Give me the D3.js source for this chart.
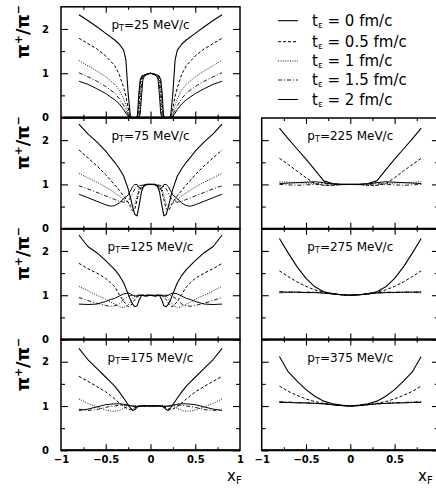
<!DOCTYPE html>
<html><head><meta charset="utf-8">
<script src="https://cdn.jsdelivr.net/npm/d3@7"></script>
<style>
body{margin:0;background:#fff}
svg{display:block}
text{font-family:"DejaVu Sans",sans-serif;fill:#000}
</style>
</head><body><svg id="c" width="436" height="488"></svg>
<script>
// ---------------- data ----------------
const momenta = ["25","75","125","175","225","275","375"];
const legendTimes = ["0","0.5","1","1.5","2"];
const xTickValues = [-1,-0.5,0,0.5,1];
const xTickLabels = ["\u22121","\u22120.5","0","0.5","1"];
const xTickValuesRight = [-1,-0.5,0,0.5];
const xTickLabelsRight = ["\u22121","\u22120.5","0","0.5"];
const xMinorValues = [-0.75,-0.25,0.25,0.75];
const yTickValues = [0,1,2];
const yTickLabels = ["0","1","2"];
const yMinorValues = [0.5,1.5];

const xGrid25 = [-0.8,-0.7,-0.6,-0.5,-0.4,-0.35,-0.3,-0.275,-0.25,-0.225,-0.2,-0.16,-0.145,-0.13,-0.115,-0.1,-0.085,-0.07,-0.04,0,
  0.04,0.07,0.085,0.1,0.115,0.13,0.145,0.16,0.2,0.225,0.25,0.275,0.3,0.35,0.4,0.5,0.6,0.7,0.8];
const xGridMid = [-0.8,-0.7,-0.6,-0.5,-0.45,-0.4,-0.35,-0.3,-0.25,-0.225,-0.2,-0.175,-0.15,-0.125,-0.1,-0.075,-0.05,0,
  0.05,0.075,0.1,0.125,0.15,0.175,0.2,0.225,0.25,0.3,0.35,0.4,0.45,0.5,0.6,0.7,0.8];
const xGridR = [-0.8,-0.7,-0.6,-0.5,-0.4,-0.3,-0.2,-0.1,0,0.1,0.2,0.3,0.4,0.5,0.6,0.7,0.8];

// pT = 25 MeV/c
const pt25_t0  = [2.32,2.19,2.05,1.90,1.75,1.66,1.52,1.30,0.55,0.02,0,0,0.05,0.55,0.85,0.92,0.95,0.96,0.98,1.00,0.98,0.96,0.95,0.92,0.85,0.55,0.05,0,0,0.02,0.55,1.30,1.52,1.66,1.75,1.90,2.05,2.19,2.32];
const pt25_t05 = [1.79,1.67,1.55,1.39,1.17,0.98,0.68,0.48,0.22,0.02,0,0,0,0.30,0.75,0.90,0.94,0.96,0.98,1.00,0.98,0.96,0.94,0.90,0.75,0.30,0,0,0,0.02,0.22,0.48,0.68,0.98,1.17,1.39,1.55,1.67,1.79];
const pt25_t1  = [1.29,1.17,1.05,0.92,0.75,0.62,0.42,0.28,0.12,0.01,0,0,0,0.10,0.55,0.85,0.92,0.95,0.98,1.00,0.98,0.95,0.92,0.85,0.55,0.10,0,0,0,0.01,0.12,0.28,0.42,0.62,0.75,0.92,1.05,1.17,1.29];
const pt25_t15 = [1.01,0.92,0.82,0.70,0.55,0.43,0.27,0.17,0.07,0,0,0,0,0.02,0.30,0.75,0.90,0.94,0.97,1.00,0.97,0.94,0.90,0.75,0.30,0.02,0,0,0,0,0.07,0.17,0.27,0.43,0.55,0.70,0.82,0.92,1.01];
const pt25_t2  = [0.82,0.75,0.65,0.54,0.40,0.31,0.18,0.10,0.03,0,0,0,0,0,0.08,0.50,0.85,0.93,0.97,1.00,0.97,0.93,0.85,0.50,0.08,0,0,0,0,0,0.03,0.10,0.18,0.31,0.40,0.54,0.65,0.75,0.82];

// pT = 75 MeV/c
const pt75_t0  = [2.36,2.14,1.96,1.75,1.62,1.50,1.36,1.19,0.90,0.71,0.50,0.32,0.29,0.55,0.84,0.97,1.00,1.00,1.00,0.97,0.84,0.55,0.29,0.32,0.50,0.71,0.90,1.19,1.36,1.50,1.62,1.75,1.96,2.14,2.36];
const pt75_t05 = [1.78,1.60,1.42,1.22,1.10,0.99,0.87,0.74,0.60,0.50,0.40,0.45,0.65,0.85,0.95,0.98,1.00,1.00,1.00,0.98,0.95,0.85,0.65,0.45,0.40,0.50,0.60,0.74,0.87,0.99,1.10,1.22,1.42,1.60,1.78];
const pt75_t1  = [1.25,1.15,1.05,0.94,0.88,0.81,0.74,0.66,0.58,0.54,0.50,0.55,0.75,0.92,0.97,0.99,1.00,1.00,1.00,0.99,0.97,0.92,0.75,0.55,0.50,0.54,0.58,0.66,0.74,0.81,0.88,0.94,1.05,1.15,1.25];
const pt75_t15 = [0.97,0.90,0.82,0.74,0.70,0.66,0.62,0.60,0.62,0.70,0.80,0.90,0.95,0.97,0.98,0.99,1.00,1.00,1.00,0.99,0.98,0.97,0.95,0.90,0.80,0.70,0.62,0.60,0.62,0.66,0.70,0.74,0.82,0.90,0.97];
const pt75_t2  = [0.78,0.70,0.62,0.54,0.51,0.52,0.58,0.68,0.76,0.85,0.95,1.00,1.00,0.92,0.90,0.95,0.99,1.00,0.99,0.95,0.90,0.92,1.00,1.00,0.95,0.85,0.76,0.68,0.58,0.52,0.51,0.54,0.62,0.70,0.78];

// pT = 125 MeV/c
const pt125_t0  = [2.36,2.10,1.96,1.78,1.68,1.58,1.45,1.28,1.03,0.90,0.80,0.74,0.76,0.90,1.00,0.99,0.98,1.00,0.98,0.99,1.00,0.90,0.76,0.74,0.80,0.90,1.03,1.28,1.45,1.58,1.68,1.78,1.96,2.10,2.36];
const pt125_t05 = [1.72,1.60,1.50,1.38,1.29,1.19,1.02,0.86,0.74,0.76,0.82,0.90,0.96,0.99,1.00,1.00,1.00,1.00,1.00,1.00,1.00,0.99,0.96,0.90,0.82,0.76,0.74,0.86,1.02,1.19,1.29,1.38,1.50,1.60,1.72];
const pt125_t1  = [1.20,1.10,1.00,0.91,0.85,0.80,0.74,0.72,0.78,0.85,0.92,0.97,0.99,1.00,1.00,1.00,1.00,1.00,1.00,1.00,1.00,1.00,0.99,0.97,0.92,0.85,0.78,0.72,0.74,0.80,0.85,0.91,1.00,1.10,1.20];
const pt125_t15 = [0.95,0.88,0.82,0.77,0.75,0.76,0.80,0.90,0.97,0.99,1.00,1.00,1.00,1.00,1.00,1.00,1.00,1.00,1.00,1.00,1.00,1.00,1.00,1.00,1.00,0.99,0.97,0.90,0.80,0.76,0.75,0.77,0.82,0.88,0.95];
const pt125_t2  = [0.80,0.79,0.80,0.86,0.90,0.93,0.98,1.03,1.05,1.03,1.00,0.98,0.98,1.00,1.00,0.99,0.99,1.00,0.99,0.99,1.00,1.00,0.98,0.98,1.00,1.03,1.05,1.03,0.98,0.93,0.90,0.86,0.80,0.79,0.80];

// pT = 175 MeV/c
const pt175_t0  = [2.30,2.05,1.85,1.65,1.55,1.45,1.32,1.18,1.03,0.96,0.90,0.92,0.97,1.00,1.00,1.01,1.01,1.00,1.01,1.01,1.00,1.00,0.97,0.92,0.90,0.96,1.03,1.18,1.32,1.45,1.55,1.65,1.85,2.05,2.30];
const pt175_t05 = [1.67,1.56,1.44,1.32,1.24,1.16,1.07,0.99,0.93,0.92,0.94,0.96,0.98,0.99,1.00,1.00,1.00,1.00,1.00,1.00,1.00,0.99,0.98,0.96,0.94,0.92,0.93,0.99,1.07,1.16,1.24,1.32,1.44,1.56,1.67];
const pt175_t1  = [1.16,1.06,0.98,0.91,0.89,0.88,0.90,0.95,0.99,1.00,1.00,1.00,1.00,1.00,1.00,1.00,1.00,1.00,1.00,1.00,1.00,1.00,1.00,1.00,1.00,1.00,0.99,0.95,0.90,0.88,0.89,0.91,0.98,1.06,1.16];
const pt175_t15 = [0.93,0.90,0.92,0.97,0.99,1.00,1.02,1.02,1.01,1.00,1.00,1.00,1.00,1.00,1.00,1.00,1.00,1.00,1.00,1.00,1.00,1.00,1.00,1.00,1.00,1.00,1.01,1.02,1.02,1.00,0.99,0.97,0.92,0.90,0.93];
const pt175_t2  = [0.90,0.93,0.98,1.03,1.04,1.05,1.05,1.04,1.02,1.01,1.00,0.99,0.99,1.00,1.00,1.00,1.00,1.00,1.00,1.00,1.00,1.00,0.99,0.99,1.00,1.01,1.02,1.04,1.05,1.05,1.04,1.03,0.98,0.93,0.90];

// pT = 225 MeV/c
const pt225_t0  = [2.27,2.03,1.80,1.57,1.33,1.08,1.02,1.00,1.00,1.00,1.02,1.08,1.33,1.57,1.80,2.03,2.27];
const pt225_t05 = [1.59,1.45,1.30,1.15,1.02,0.98,0.98,1.00,1.00,1.00,0.98,0.98,1.02,1.15,1.30,1.45,1.59];
const pt225_t1  = [1.06,1.05,1.04,1.03,1.02,0.98,0.98,0.99,1.00,0.99,0.98,0.98,1.02,1.03,1.04,1.05,1.06];
const pt225_t15 = [1.00,0.99,0.98,0.99,1.00,1.02,1.00,1.00,1.00,1.00,1.00,1.02,1.00,0.99,0.98,0.99,1.00];
const pt225_t2  = [1.02,1.03,1.04,1.05,1.06,1.04,1.01,1.00,1.00,1.00,1.01,1.04,1.06,1.05,1.04,1.03,1.02];

// pT = 275 MeV/c
const pt275_t0  = [2.28,1.95,1.64,1.38,1.19,1.08,1.03,1.01,1.00,1.01,1.03,1.08,1.19,1.38,1.64,1.95,2.28];
const pt275_t05 = [1.55,1.42,1.30,1.20,1.12,1.07,1.04,1.01,1.00,1.01,1.04,1.07,1.12,1.20,1.30,1.42,1.55];
const pt275_t1  = [1.05,1.06,1.06,1.06,1.06,1.05,1.03,1.01,1.00,1.01,1.03,1.05,1.06,1.06,1.06,1.06,1.05];
const pt275_t15 = [1.08,1.07,1.07,1.07,1.07,1.05,1.03,1.01,1.00,1.01,1.03,1.05,1.07,1.07,1.07,1.07,1.08];
const pt275_t2  = [1.07,1.07,1.07,1.06,1.06,1.05,1.03,1.01,1.00,1.01,1.03,1.05,1.06,1.06,1.07,1.07,1.07];

// pT = 375 MeV/c
const pt375_t0  = [2.12,1.77,1.56,1.37,1.22,1.11,1.05,1.02,1.00,1.02,1.05,1.11,1.22,1.37,1.56,1.77,2.12];
const pt375_t05 = [1.45,1.33,1.24,1.16,1.10,1.06,1.03,1.01,1.00,1.01,1.03,1.06,1.10,1.16,1.24,1.33,1.45];
const pt375_t1  = [1.09,1.08,1.08,1.07,1.06,1.05,1.03,1.01,1.00,1.01,1.03,1.05,1.06,1.07,1.08,1.08,1.09];
const pt375_t15 = [1.10,1.09,1.08,1.07,1.06,1.05,1.03,1.01,1.00,1.01,1.03,1.05,1.06,1.07,1.08,1.09,1.10];
const pt375_t2  = [1.08,1.08,1.07,1.07,1.06,1.05,1.03,1.01,1.00,1.01,1.03,1.05,1.06,1.07,1.07,1.08,1.08];

// ---------------- layout ----------------
const panels = [
  {pt:momenta[0], col:0,row:0, xs:xGrid25,  ys:[pt25_t0,pt25_t05,pt25_t1,pt25_t15,pt25_t2]},
  {pt:momenta[1], col:0,row:1, xs:xGridMid, ys:[pt75_t0,pt75_t05,pt75_t1,pt75_t15,pt75_t2]},
  {pt:momenta[2], col:0,row:2, xs:xGridMid, ys:[pt125_t0,pt125_t05,pt125_t1,pt125_t15,pt125_t2]},
  {pt:momenta[3], col:0,row:3, xs:xGridMid, ys:[pt175_t0,pt175_t05,pt175_t1,pt175_t15,pt175_t2]},
  {pt:momenta[4], col:1,row:1, xs:xGridR,   ys:[pt225_t0,pt225_t05,pt225_t1,pt225_t15,pt225_t2]},
  {pt:momenta[5], col:1,row:2, xs:xGridR,   ys:[pt275_t0,pt275_t05,pt275_t1,pt275_t15,pt275_t2]},
  {pt:momenta[6], col:1,row:3, xs:xGridR,   ys:[pt375_t0,pt375_t05,pt375_t1,pt375_t15,pt375_t2]},
];
const colRange = [[61,240],[261.7,438.9]];
const rowTop = [6.8,118,228.8,339.6];
const rowH = 110.7;
const styles = [
  {dash:null, w:1.1},
  {dash:"3,2", w:1},
  {dash:"1,1.4", w:0.9},
  {dash:"4,2,1,2", w:0.9},
  {dash:null, w:1},
];

const svg = d3.select("#c");
svg.append("rect").attr("width",436).attr("height",488).attr("fill","#fff");

panels.forEach(p=>{
  const x = d3.scaleLinear().domain([-1,1]).range(colRange[p.col]);
  const y = d3.scaleLinear().domain([0,2.5]).range([rowTop[p.row]+rowH,rowTop[p.row]]);
  const g = svg.append("g");
  const y0 = y(0), yT = y(2.5), xL = x(-1), xR = x(1);

  // curves
  p.ys.forEach((vals,i)=>{
    const pts = p.xs.map((xv,j)=>[xv,vals[j]]);
    g.append("path").datum(pts)
      .attr("d", d3.line().x(d=>x(d[0])).y(d=>y(d[1])))
      .attr("fill","none").attr("stroke","#000")
      .attr("stroke-width",styles[i].w)
      .attr("stroke-dasharray",styles[i].dash)
      .attr("stroke-linejoin","round");
  });

  // ticks via d3 axes (inward)
  const mk = (axisFn, scale, vals, size, tr)=>{
    const a = g.append("g").attr("transform",tr)
      .call(axisFn(scale).tickValues(vals).tickSize(size).tickFormat(""));
    a.select(".domain").remove();
    a.selectAll("line").attr("stroke","#000").attr("stroke-width",1.1);
  };
  mk(d3.axisBottom, x, [-0.5,0,0.5], -6, `translate(0,${y0})`);
  mk(d3.axisBottom, x, xMinorValues, -3, `translate(0,${y0})`);
  mk(d3.axisTop, x, [-0.5,0,0.5], -6, `translate(0,${yT})`);
  mk(d3.axisTop, x, xMinorValues, -3, `translate(0,${yT})`);
  mk(d3.axisLeft, y, yTickValues, -7, `translate(${xL},0)`);
  mk(d3.axisLeft, y, yMinorValues, -4, `translate(${xL},0)`);
  mk(d3.axisRight, y, yTickValues, -7, `translate(${xR},0)`);
  mk(d3.axisRight, y, yMinorValues, -4, `translate(${xR},0)`);

  // frame
  g.append("rect").attr("x",xL).attr("y",yT).attr("width",xR-xL).attr("height",y0-yT)
    .attr("fill","none").attr("stroke","#000").attr("stroke-width",1.5);
  g.append("line").attr("x1",xL).attr("x2",xR).attr("y1",y0).attr("y2",y0)
    .attr("stroke","#000").attr("stroke-width",2);

  // panel label
  const t = g.append("text").attr("x",x(0)).attr("y",yT+22).attr("text-anchor","middle")
    .attr("font-size",12);
  t.append("tspan").text("p");
  t.append("tspan").attr("font-size",8).attr("dy",2).text("T");
  t.append("tspan").attr("dy",-2).text("=" + p.pt + " MeV/c");

  if(p.col===0){
    // y tick labels
    const ya = g.append("g").attr("transform",`translate(${xL-9},0)`)
      .call(d3.axisLeft(y).tickValues(yTickValues).tickSize(0)
        .tickFormat((d,i)=>yTickLabels[i]));
    ya.select(".domain").remove();
    ya.selectAll("text").attr("font-size",10).attr("font-weight","bold")
      .attr("font-family","DejaVu Sans").attr("fill","#000");
    // y title
    const yt = svg.append("text").attr("transform",`translate(29,${yT+25}) rotate(-90)`)
      .attr("text-anchor","middle").attr("font-size",18).attr("font-weight","bold");
    yt.append("tspan").text("\u03c0");
    yt.append("tspan").attr("font-size",11).attr("dy",-7).text("+");
    yt.append("tspan").attr("dy",7).text("/\u03c0");
    yt.append("tspan").attr("font-size",11).attr("dy",-7).text("\u2212");
  }
  if(p.row===3){
    const vals = p.col===0 ? xTickValues : xTickValuesRight;
    const labs = p.col===0 ? xTickLabels : xTickLabelsRight;
    const xa = g.append("g").attr("transform",`translate(0,${y0+3})`)
      .call(d3.axisBottom(x).tickValues(vals).tickSize(0)
        .tickFormat((d,i)=>labs[i]));
    xa.select(".domain").remove();
    xa.selectAll("text").attr("font-size",10).attr("font-weight","bold")
      .attr("font-family","DejaVu Sans").attr("fill","#000");
    const xt = svg.append("text").attr("x",p.col===0 ? xR-13 : 418).attr("y",481).attr("font-size",15);
    xt.append("tspan").text("x");
    xt.append("tspan").attr("font-size",10).attr("dy",3).text("F");
  }
});

// legend
const legRows = [20.7,41.7,61,80,99.5];
legendTimes.forEach((tv,i)=>{
  svg.append("line").attr("x1",278).attr("x2",298).attr("y1",legRows[i]).attr("y2",legRows[i])
    .attr("stroke","#000").attr("stroke-width",styles[i].w).attr("stroke-dasharray",styles[i].dash);
  const t = svg.append("text").attr("x",312).attr("y",legRows[i]+5).attr("font-size",15);
  t.append("tspan").text("t");
  t.append("tspan").attr("font-size",9).attr("dy",2).text("\u03b5");
  t.append("tspan").attr("dy",-2).text(" = " + tv + " fm/c");
});
</script>
</body></html>
